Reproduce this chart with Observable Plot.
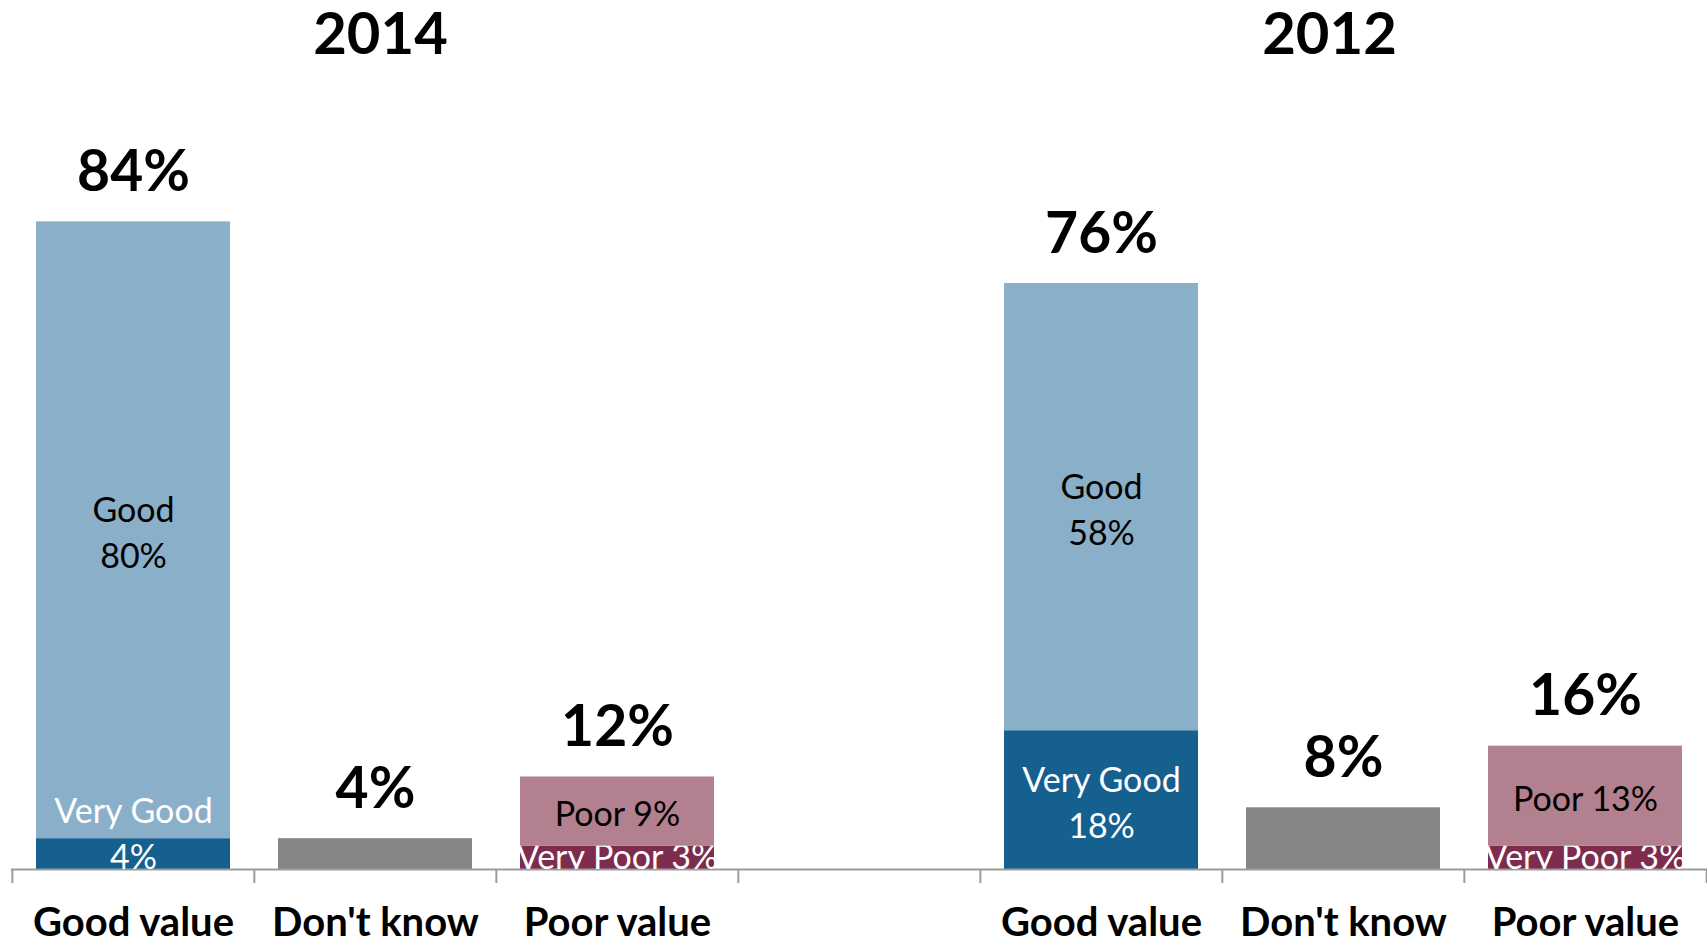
<!DOCTYPE html>
<html><head><meta charset="utf-8">
<script src="https://cdn.jsdelivr.net/npm/d3@7"></script>
<script src="https://cdn.jsdelivr.net/npm/@observablehq/plot@0.6"></script>
<style>html,body{margin:0;padding:0;background:#fff;overflow:hidden;}</style>
</head><body><div id="chart"></div>
<script>
// ---- data ----
const years = ["2014", "2012"];
const categories = ["Good value", "Don't know", "Poor value"];
const responses = ["Very Good", "Good", "Don't know", "Very Poor", "Poor"];
const responseCategory = ["Good value", "Good value", "Don't know", "Poor value", "Poor value"];
const values2014 = [4, 80, 4, 3, 9];
const values2012 = [18, 58, 8, 3, 13];
const totals2014 = [84, 4, 12];
const totals2012 = [76, 8, 16];
const responseColors = ["#15608f", "#8aafc8", "#868686", "#7e2c4d", "#b3808f"];

// ---- build tables ----
const W = 1707, H = 942;
const mT = 98, mB = 73, mL = 11, mR = 0;
const key = (y, c) => `${y}|${c}`;
const GAP = "gap";
const xDomain = [...categories.map(c => key(years[0], c)), GAP, ...categories.map(c => key(years[1], c))];
const step = (W - mL - mR) / xDomain.length;
const valuesByYear = {[years[0]]: values2014, [years[1]]: values2012};
const totalsByYear = {[years[0]]: totals2014, [years[1]]: totals2012};

const segments = years.flatMap(y => responses.map((r, i) => ({
  year: y, response: r, x: key(y, responseCategory[i]), value: valuesByYear[y][i]
})));
const totals = years.flatMap(y => categories.map((c, i) => ({x: key(y, c), total: totalsByYear[y][i]})));

const isGoodSide = r => r === "Very Good" || r === "Good";
const labelText = d => d.response === "Don't know" ? null
  : isGoodSide(d.response) ? `${d.response}\n${d.value}%` : `${d.response} ${d.value}%`;
const pick = f => d => f(d) ? labelText(d) : null;
const SMALL = 6;

const font = "Lato, 'Open Sans', 'DejaVu Sans', sans-serif";
const tickColor = "#9c9c9c";
const inFont = 34, inLine = 1.35;

const plot = Plot.plot({
  width: W, height: H,
  marginTop: mT, marginBottom: mB, marginLeft: mL, marginRight: mR,
  x: {domain: xDomain, padding: 0, axis: null},
  y: {domain: [0, 100], axis: null},
  color: {domain: responses, range: responseColors},
  style: {fontFamily: font, background: "white", overflow: "visible"},
  marks: [
    Plot.barY(segments, {x: "x", y: "value", fill: "response", insetLeft: 24, insetRight: 24}),
    Plot.ruleY([0], {stroke: tickColor, strokeWidth: 2}),
    Plot.ruleX(xDomain, {x: d => d, dx: -step / 2, stroke: tickColor, strokeWidth: 2, insetTop: H - mT - mB, insetBottom: -14}),
    Plot.ruleX(xDomain.slice(-1), {x: d => d, dx: step / 2, stroke: tickColor, strokeWidth: 2, insetTop: H - mT - mB, insetBottom: -14}),
    // black labels
    Plot.text(segments, Plot.stackY({x: "x", y: "value",
      text: pick(d => d.response === "Good" || d.response === "Poor"),
      fill: "black", fontSize: inFont, lineHeight: inLine})),
    // white very good labels (large segments)
    Plot.text(segments, Plot.stackY({x: "x", y: "value",
      text: pick(d => d.response === "Very Good" && d.value >= SMALL),
      fill: "white", fontSize: inFont, lineHeight: inLine})),
    // white very good labels (small segments): last line centred on the segment
    Plot.text(segments, Plot.stackY({x: "x", y: "value",
      text: pick(d => d.response === "Very Good" && d.value < SMALL),
      fill: "white", fontSize: inFont, lineHeight: inLine, dy: -23})),
    // very poor labels (clipped to bar)
    Plot.text(segments, Plot.stackY({x: "x", y: "value",
      text: pick(d => d.response === "Very Poor"),
      fill: "white", fontSize: inFont})),
    // totals
    Plot.text(totals, {x: "x", y: "total", text: d => `${d.total}%`, dy: -49, fontSize: 57, fontWeight: 700, fill: "black"}),
    // category labels
    Plot.text(xDomain.filter(d => d !== GAP), {x: d => d, text: d => d.split("|")[1], frameAnchor: "bottom", lineAnchor: "middle", dy: 54, fontSize: 40, fontWeight: 700, fill: "black"}),
    // year titles
    Plot.text([years[0]], {x: d => key(d, categories[1]), text: d => d, frameAnchor: "top", lineAnchor: "middle", dy: -63, dx: 5, fontSize: 58, fontWeight: 700, fill: "black"}),
    Plot.text([years[1]], {x: d => key(d, categories[1]), text: d => d, frameAnchor: "top", lineAnchor: "middle", dy: -63, dx: -14, fontSize: 58, fontWeight: 700, fill: "black"})
  ]
});
document.getElementById("chart").appendChild(plot);

// clip "Very Poor" labels to their bars
(function () {
  const ns = "http://www.w3.org/2000/svg";
  const svg = plot.tagName.toLowerCase() === "svg" ? plot : plot.querySelector("svg");
  const vpColor = responseColors[responses.indexOf("Very Poor")].toLowerCase();
  const groups = Array.from(svg.querySelectorAll("g"));
  const tg = groups.find(g => {
    const ts = Array.from(g.children).filter(c => c.tagName.toLowerCase() === "text");
    return ts.length && ts.every(t => t.textContent.startsWith("Very Poor"));
  });
  if (!tg) return;
  let defs = svg.querySelector("defs");
  if (!defs) { defs = document.createElementNS(ns, "defs"); svg.insertBefore(defs, svg.firstChild); }
  const cp = document.createElementNS(ns, "clipPath");
  cp.setAttribute("id", "vpclip");
  cp.setAttribute("clipPathUnits", "userSpaceOnUse");
  svg.querySelectorAll("rect").forEach(r => {
    if ((r.getAttribute("fill") || "").toLowerCase() === vpColor) {
      const c = r.cloneNode(false);
      const pt = r.parentNode.getAttribute("transform");
      const own = r.getAttribute("transform");
      const tr = [pt, own].filter(Boolean).join(" ");
      if (tr) c.setAttribute("transform", tr);
      cp.appendChild(c);
    }
  });
  defs.appendChild(cp);
  const wrap = document.createElementNS(ns, "g");
  tg.parentNode.insertBefore(wrap, tg);
  wrap.appendChild(tg);
  wrap.setAttribute("clip-path", "url(#vpclip)");
})();
</script>
</body></html>
